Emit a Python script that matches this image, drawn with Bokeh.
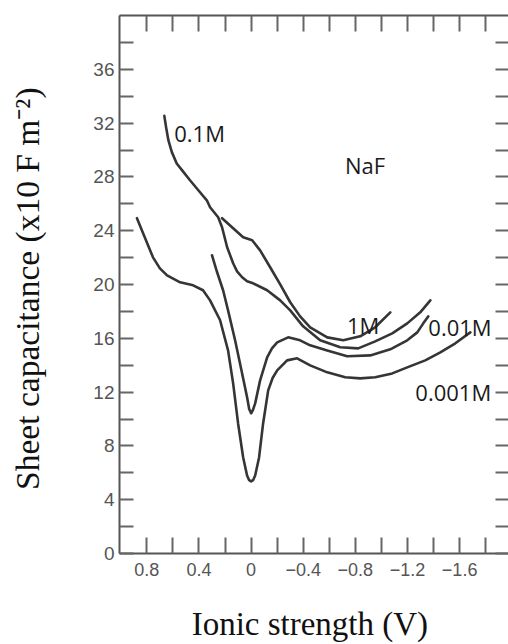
from bokeh.plotting import figure
from bokeh.models import Range1d, LinearAxis, FixedTicker, ColumnDataSource
from bokeh.core.properties import value
from bokeh.embed import file_html
from bokeh.resources import INLINE

# ---------------- data ----------------
# 0.001 M curve (outer V)
c0001_x = [0.876, 0.829, 0.753, 0.700, 0.645, 0.545, 0.445, 0.369, 0.315, 0.238,
           0.177, 0.138, 0.100, 0.061, 0.031, 0.015, 0.0, -0.015, -0.031, -0.061,
           -0.092, -0.131, -0.165, -0.200, -0.276, -0.353, -0.453, -0.584, -0.722,
           -0.837, -0.952, -1.083, -1.198, -1.336, -1.452, -1.567, -1.682]
c0001_y = [24.93, 23.81, 22.02, 21.20, 20.68, 20.16, 19.94, 19.57, 18.82, 17.34,
           15.10, 12.65, 9.67, 7.14, 5.80, 5.45, 5.36, 5.45, 5.80, 7.14,
           9.67, 12.13, 13.05, 13.62, 14.36, 14.51, 13.99, 13.47, 13.10,
           13.02, 13.10, 13.39, 13.84, 14.36, 14.96, 15.63, 16.44]

# 0.01 M curve (inner V)
c001_x = [0.300, 0.261, 0.215, 0.177, 0.123, 0.069, 0.031, 0.015, 0.0, -0.015,
          -0.031, -0.069, -0.123, -0.160, -0.200, -0.284, -0.376, -0.453, -0.584,
          -0.737, -0.914, -1.068, -1.198, -1.275, -1.321, -1.359]
c001_y = [22.17, 20.91, 19.57, 18.08, 15.85, 13.39, 11.61, 10.75, 10.42, 10.70,
          11.16, 12.87, 14.58, 15.25, 15.70, 16.07, 15.85, 15.48, 15.10,
          14.66, 14.73, 15.18, 15.85, 16.44, 17.11, 17.63]

# 0.1 M curve
c01_x = [0.666, 0.653, 0.635, 0.609, 0.571, 0.520, 0.469, 0.405, 0.340, 0.315,
         0.253, 0.223, 0.184, 0.138, 0.108, 0.069, 0.031, -0.015, -0.123, -0.223,
         -0.300, -0.399, -0.530, -0.684, -0.822, -0.952, -1.083, -1.198, -1.298,
         -1.375]
c01_y = [32.54, 31.72, 30.73, 29.86, 29.00, 28.37, 27.75, 27.01, 26.26, 25.74,
         25.00, 24.26, 22.77, 21.58, 20.98, 20.54, 20.24, 20.09, 19.57, 18.82,
         18.08, 16.89, 15.85, 15.33, 15.25, 15.77, 16.37, 17.11, 17.93,
         18.82]

# 1 M curve
c1_x = [0.223, 0.138, 0.061, -0.008, -0.069, -0.146, -0.223, -0.300, -0.376,
        -0.453, -0.584, -0.707, -0.837, -0.952, -1.068]
c1_y = [24.93, 24.18, 23.51, 23.29, 22.54, 21.28, 20.01, 18.68, 17.63,
        16.82, 16.07, 15.85, 16.15, 16.82, 17.93]

# curve labels
label_text = ["0.1M", "NaF", "1M", "0.01M", "0.001M"]
label_x = [0.59, -0.72, -0.735, -1.36, -1.26]
label_y = [31.25, 28.87, 16.96, 16.84, 12.0]

# ticks
x_major = [0.8, 0.4, 0.0, -0.4, -0.8, -1.2, -1.6]
x_major_labels = ["0.8", "0.4", "0", "\u22120.4", "\u22120.8", "\u22121.2", "\u22121.6"]
x_minor = [0.6, 0.2, -0.2, -0.6, -1.0, -1.4, -1.8]
y_major = [0, 4, 8, 12, 16, 20, 24, 28, 32, 36]
y_major_labels = ["0", "4", "8", "12", "16", "20", "24", "28", "32", "36"]
y_minor = [2, 6, 10, 14, 18, 22, 26, 30, 34, 38]

x_title = "Ionic strength  (V)"
y_title = "Sheet capacitance  (x10 F m\u207b\u00b2)"

# ---------------- figure ----------------
p = figure(width=508, height=644,
           x_range=Range1d(1.01, -1.975), y_range=Range1d(0, 40),
           output_backend="svg", toolbar_location=None,
           min_border_left=119, min_border_right=0,
           min_border_top=15, min_border_bottom=91)
p.xgrid.visible = False
p.ygrid.visible = False
p.outline_line_color = None
p.background_fill_color = "white"
p.border_fill_color = "white"

AX_COLOR = "#555555"
TICK_COLOR = "#666666"


def style_axis(ax, ticker, tick_len, show_labels):
    ax.ticker = ticker
    ax.axis_line_color = AX_COLOR
    ax.axis_line_width = 2
    ax.major_tick_in = tick_len
    ax.major_tick_out = 0
    ax.minor_tick_in = tick_len
    ax.minor_tick_out = 0
    ax.major_tick_line_color = TICK_COLOR
    ax.minor_tick_line_color = TICK_COLOR
    ax.major_tick_line_width = 2
    ax.minor_tick_line_width = 2
    if not show_labels:
        ax.major_label_overrides = {t: "" for t in ticker.ticks}
        ax.major_label_text_font_size = "0px"
        ax.major_label_standoff = 0
        ax.axis_label_text_font_size = "0px"
        ax.axis_label_standoff = 0


x_ticker = FixedTicker(ticks=x_major, minor_ticks=x_minor)
y_ticker = FixedTicker(ticks=y_major, minor_ticks=y_minor)

xb = p.xaxis[0]
style_axis(xb, x_ticker, 16, True)
xb.major_label_overrides = {t: s for t, s in zip(x_major, x_major_labels)}
xb.major_label_text_font = "Liberation Sans"
xb.major_label_text_font_size = "18px"
xb.major_label_text_color = "#555555"
xb.major_label_standoff = 9
xb.axis_label = x_title
xb.axis_label_text_font = "Liberation Serif"
xb.axis_label_text_font_size = "33px"
xb.axis_label_text_font_style = "normal"
xb.axis_label_text_color = "#111111"
xb.axis_label_standoff = 27

yl = p.yaxis[0]
style_axis(yl, y_ticker, 14, True)
yl.major_label_overrides = {t: s for t, s in zip(y_major, y_major_labels)}
yl.major_label_text_font = "Liberation Sans"
yl.major_label_text_font_size = "19px"
yl.major_label_text_color = "#555555"
yl.major_label_standoff = 5
yl.axis_label = y_title
yl.axis_label_text_font = "Liberation Serif"
yl.axis_label_text_font_size = "33.5px"
yl.axis_label_text_font_style = "normal"
yl.axis_label_text_color = "#111111"
yl.axis_label_standoff = 44

top_ax = LinearAxis()
style_axis(top_ax, FixedTicker(ticks=x_major, minor_ticks=x_minor), 16, False)
p.add_layout(top_ax, "above")

right_ax = LinearAxis()
style_axis(right_ax, FixedTicker(ticks=y_major, minor_ticks=y_minor), 13, False)
right_ax.axis_line_color = None
p.add_layout(right_ax, "right")

# ---------------- curves ----------------
LINE_COLOR = "#353535"
for xs, ys in [(c0001_x, c0001_y), (c001_x, c001_y), (c01_x, c01_y), (c1_x, c1_y)]:
    p.line(xs, ys, line_color=LINE_COLOR, line_width=2.6,
           line_join="round", line_cap="round")

src = ColumnDataSource(dict(x=label_x, y=label_y, t=label_text))
p.text(x="x", y="y", text="t", source=src,
       text_font=value("Open Sans"), text_font_size="22px",
       text_color="#1a1a1a", text_align="left", text_baseline="alphabetic")

open("out.html", "w").write(file_html(p, INLINE))
